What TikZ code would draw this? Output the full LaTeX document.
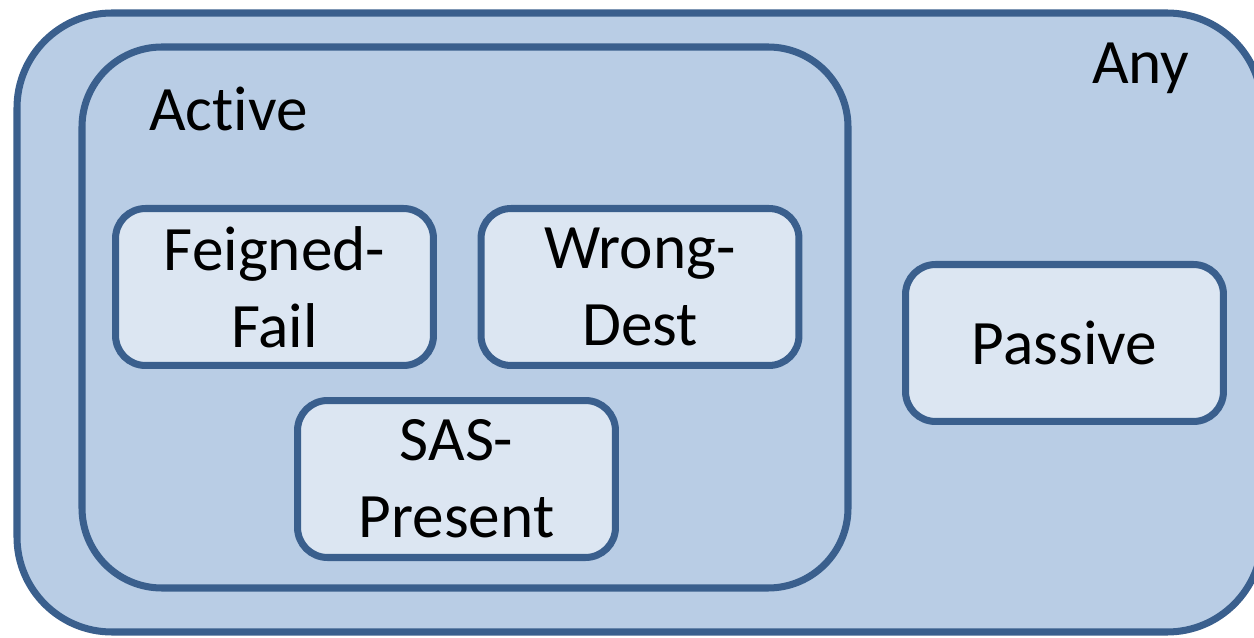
\documentclass[tikz,border=0pt]{standalone}
\usepackage{fontspec}
\setmainfont{Carlito}[Ligatures=NoCommon]
\definecolor{edgeblue}{HTML}{3A5F8D}
\definecolor{outerfill}{HTML}{B9CDE5}
\definecolor{innerfill}{HTML}{DCE6F2}

\tikzset{
  group/.style={draw=edgeblue, line width=4pt, fill=outerfill},
  attack/.style={draw=edgeblue, line width=4pt, fill=innerfill, rounded corners=0.6cm,
    minimum width=6.36cm, minimum height=3.14cm, align=center, inner sep=0pt},
  biglabel/.style={font=\fontsize{36}{44}\selectfont}
}

\begin{document}
\begin{tikzpicture}[x=0.02cm, y=-0.02cm]
\useasboundingbox (0,0) rectangle (1254,638);
% outer and inner groups
\draw [group, rounded corners=1.9cm] (17,13) rectangle (1262,632);
\node[biglabel, anchor=base west] (anylbl) at (1086,84) {Any};
\draw [group, rounded corners=1.6cm] (82,47) rectangle (848,588);
\node[biglabel, anchor=base west] (activelbl) at (143,131) {Active};
% attack types
\node[attack, biglabel] (feigned) at (274.5,287) {Feigned-\\Fail};
\node[attack, biglabel] (wrongdest) at (640,287) {Wrong-\\Dest};
\node[attack, biglabel] (saspresent) at (456.5,479) {SAS-\\Present};
\node[attack, biglabel] (passive) at (1064.5,343) {Passive};
\end{tikzpicture}
\end{document}
